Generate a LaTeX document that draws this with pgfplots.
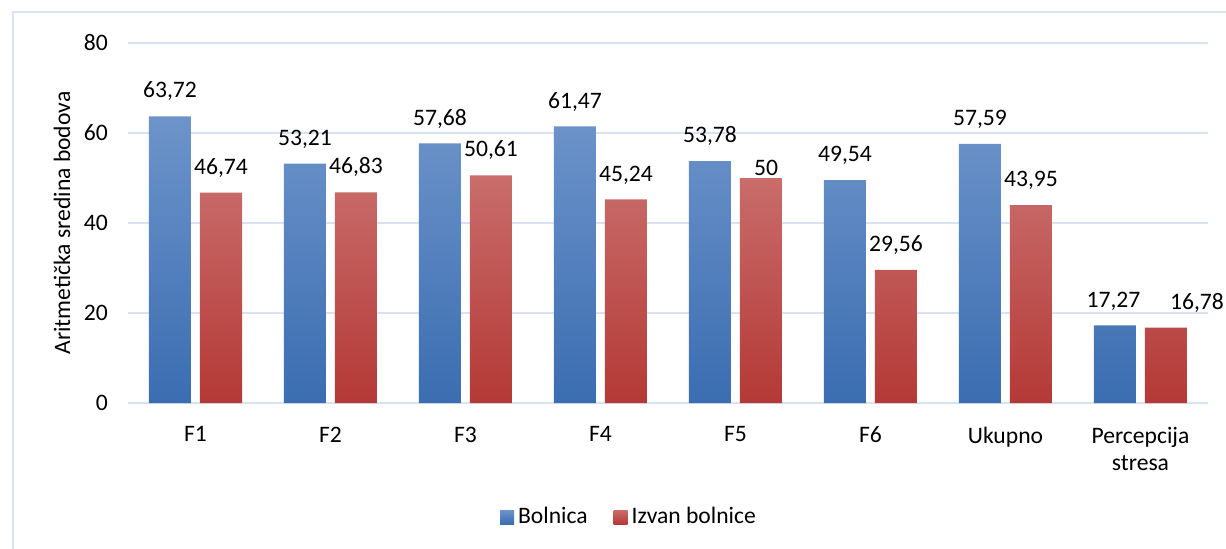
\documentclass[border=0pt]{standalone}
\usepackage{fontspec}
\setmainfont{Carlito}
\usepackage{pgfplots}
\usepackage{pgfplotstable}
\pgfplotsset{compat=1.18}
\definecolor{gridc}{HTML}{D9E2F3}
\definecolor{framec}{HTML}{DAE3F3}
\definecolor{bluetop}{HTML}{6D94CA}
\definecolor{bluebot}{HTML}{3B6DB1}
\definecolor{redtop}{HTML}{C96D6B}
\definecolor{redbot}{HTML}{B43936}
\pgfplotstableread{
x y dx dy
0 63.72 0 0
1 53.21 0 0
2 57.68 0 0
3 61.47 0 0
4 53.78 0 0
5 49.54 0 0
6 57.59 0 0
7 17.27 -0.75 0
}\bolnica
\pgfplotstableread{
x y dx dy
0 46.74 0 0
1 46.83 0 0
2 50.61 0 0
3 45.24 0 0
4 50 2.5 -6.5
5 29.56 0 0
6 43.95 0 0
7 16.78 15.5 0
}\izvan
\begin{document}
\fontsize{11.8}{14}\selectfont
\begin{tikzpicture}[font=\fontsize{11.8}{14}\selectfont]
\useasboundingbox (-64pt,-72.5pt) rectangle (549pt,201.5pt);
\draw[framec, line width=0.75pt] (-57.5pt,195.5pt) rectangle (575pt,-95pt);
\begin{axis}[
  at={(0pt,0pt)}, anchor=south west,
  scale only axis, width=540pt, height=180pt,
  xmin=-0.5, xmax=7.5, ymin=0, ymax=80,
  ytick={0,20,40,60,80},
  xtick={0,...,7},
  xticklabels={F1,F2,F3,F4,F5,F6,Ukupno,{Percepcija\\stresa}},
  xticklabel style={align=center, yshift=-3.5pt, font=\fontsize{11.8}{13.8}\selectfont},
  yticklabel style={xshift=-6pt},
  /pgf/number format/assume math mode=true,
  axis line style={draw=none},
  tick style={draw=none},
  ymajorgrids,
  major grid style={gridc, line width=0.75pt},
  ylabel={Aritmetička sredina bodova},
  ylabel style={at={(axis description cs:-0.0611,0.5)}, anchor=center},
  ybar, bar width=21pt,
  visualization depends on={\thisrow{dx} \as \dx},
  visualization depends on={\thisrow{dy} \as \dy},
  nodes near coords={\pgfmathprintnumber[use comma,fixed,precision=2]{\pgfplotspointmeta}},
  every node near coord/.append style={xshift=\dx pt, yshift=3.5pt+\dy pt, text=black},
  legend style={at={(0.4648,-0.3167)}, anchor=center, draw=none, fill=none,
    legend columns=-1, /tikz/every even column/.append style={column sep=11pt}},
  legend cell align=left,
  legend image code/.code={\path[#1] (0pt,-3.5pt) rectangle (7pt,3.5pt);},
]
\addplot[draw=none, top color=bluetop, bottom color=bluebot, bar shift=-12.75pt]
  table[x=x, y=y] {\bolnica};
\addplot[draw=none, top color=redtop, bottom color=redbot, bar shift=12.75pt]
  table[x=x, y=y] {\izvan};
\legend{Bolnica, Izvan bolnice}
\end{axis}
\end{tikzpicture}
\end{document}
